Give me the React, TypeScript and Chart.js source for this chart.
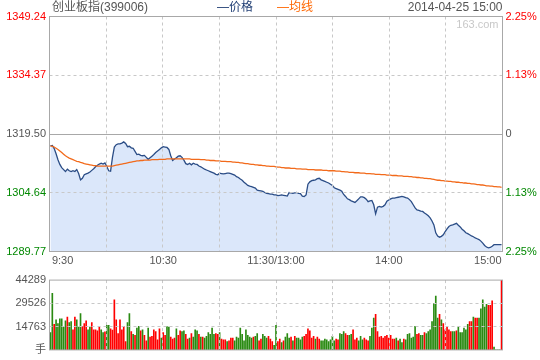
import React, { useEffect, useRef } from "react";
import { Chart, registerables } from "chart.js";

Chart.register(...registerables);

// ---------------- data ----------------
const TITLE = "创业板指(399006)";
const LEGEND_PRICE = "—价格";
const LEGEND_AVG = "—均线";
const DATE_TEXT = "2014-04-25 15:00";
const WATERMARK = "163.com";

const PREV_CLOSE = 1319.5;
const PRICE_TICKS = [1289.77, 1304.64, 1319.5, 1334.37, 1349.24];
const PRICE_TICK_LABELS = ["1289.77", "1304.64", "1319.50", "1334.37", "1349.24"];
const PCT_TICK_LABELS = ["2.25%", "1.13%", "0", "1.13%", "2.25%"];

const TIME_TICKS = [0, 60, 120, 180, 240];
const TIME_LABELS = ["9:30", "10:30", "11:30/13:00", "14:00", "15:00"];

const VOL_TICKS = [0, 14763, 29526, 44289];
const VOL_TICK_LABELS = ["手", "14763", "29526", "44289"];

// one value per minute, 9:30 .. 15:00 (241 points)
const PRICE = [
  1316.5, 1316.6, 1315.8, 1314.5, 1313.0, 1311.8, 1311.0, 1310.5, 1310.0, 1310.6,
  1310.2, 1310.0, 1310.2, 1310.0, 1310.5, 1309.5, 1307.9, 1308.3, 1309.2, 1309.4,
  1309.6, 1309.9, 1310.3, 1310.7, 1311.2, 1311.6, 1311.9, 1312.1, 1311.9, 1312.2,
  1311.3, 1310.2, 1310.1, 1313.6, 1316.2, 1316.8, 1317.0, 1317.0, 1317.2, 1317.5,
  1317.1, 1316.3, 1316.4, 1316.0, 1315.9, 1315.1, 1314.3, 1314.4, 1314.1, 1314.0,
  1314.1, 1313.6, 1313.1, 1313.5, 1313.9, 1314.3, 1314.8, 1315.2, 1315.6, 1316.0,
  1316.3, 1316.2, 1316.1, 1315.6, 1314.0, 1312.8, 1313.2, 1313.5, 1313.9, 1314.0,
  1313.6, 1312.9, 1312.0, 1311.8, 1312.1, 1311.7, 1312.1, 1311.9, 1311.8, 1311.4,
  1311.2, 1310.9, 1310.6, 1310.4, 1310.2, 1310.0, 1309.8, 1309.6, 1309.3, 1309.2,
  1309.6, 1309.5, 1309.4, 1309.5, 1309.6, 1309.6, 1309.5, 1309.3, 1309.1, 1308.7,
  1308.5, 1308.1, 1307.8, 1307.3, 1306.9, 1306.5, 1306.3, 1306.2, 1306.0, 1305.8,
  1305.3, 1305.2, 1305.1, 1305.0, 1304.7, 1304.5, 1304.4, 1304.3, 1304.3, 1304.1,
  1304.1, 1303.9, 1304.0, 1304.1, 1304.0, 1303.9, 1303.8, 1304.7, 1304.6, 1304.5,
  1304.6, 1304.7, 1304.5, 1304.4, 1303.8, 1303.7, 1304.1, 1306.8, 1307.4, 1307.7,
  1307.8, 1307.9, 1308.2, 1308.3, 1307.9, 1307.7, 1307.5, 1307.3, 1307.1, 1306.8,
  1306.5, 1305.9, 1305.7, 1305.5, 1305.3, 1305.0, 1304.2, 1303.7, 1303.1, 1302.9,
  1302.6, 1302.4, 1302.2, 1302.6, 1303.1, 1303.6, 1303.6, 1303.4, 1303.0, 1302.4,
  1302.6, 1302.7, 1301.6, 1299.3, 1301.0, 1301.2, 1301.0, 1301.2, 1301.6, 1302.5,
  1302.8, 1303.1, 1303.3, 1303.3, 1303.4, 1303.5, 1303.6, 1303.7, 1303.6, 1303.4,
  1303.3, 1302.9, 1302.4, 1301.6, 1300.8, 1300.3, 1300.2, 1300.0, 1299.9, 1299.5,
  1299.2, 1298.8, 1298.3, 1297.5, 1296.5, 1294.5, 1293.7, 1293.4, 1293.6, 1294.0,
  1294.8, 1295.5, 1296.1, 1296.4, 1296.5, 1296.7, 1296.9, 1296.4, 1296.0, 1295.4,
  1295.0, 1294.5, 1294.3, 1294.0, 1293.7, 1293.5, 1293.2, 1293.0, 1292.8, 1292.4,
  1291.9, 1291.3, 1290.9, 1290.7, 1290.8, 1291.1, 1291.5, 1291.5, 1291.5, 1291.5,
  1291.5,
];

const AVG = [
  1316.5, 1316.4, 1316.2, 1315.9, 1315.6, 1315.2, 1314.8, 1314.4, 1314.0, 1313.7,
  1313.4, 1313.2, 1313.0, 1312.8, 1312.6, 1312.5, 1312.3, 1312.2, 1312.0, 1311.9,
  1311.8, 1311.7, 1311.6, 1311.5, 1311.5, 1311.4, 1311.4, 1311.4, 1311.4, 1311.4,
  1311.4, 1311.4, 1311.4, 1311.4, 1311.5, 1311.6, 1311.7, 1311.8, 1311.9, 1312.0,
  1312.1, 1312.2, 1312.3, 1312.4, 1312.5, 1312.6, 1312.7, 1312.7, 1312.8, 1312.8,
  1312.9, 1312.9, 1312.9, 1312.9, 1313.0, 1313.0, 1313.0, 1313.0, 1313.1, 1313.1,
  1313.1, 1313.1, 1313.2, 1313.2, 1313.2, 1313.2, 1313.2, 1313.2, 1313.2, 1313.2,
  1313.2, 1313.2, 1313.2, 1313.2, 1313.2, 1313.1, 1313.1, 1313.1, 1313.1, 1313.1,
  1313.0, 1313.0, 1313.0, 1312.9, 1312.9, 1312.8, 1312.8, 1312.8, 1312.7, 1312.7,
  1312.7, 1312.6, 1312.6, 1312.6, 1312.5, 1312.5, 1312.5, 1312.4, 1312.4, 1312.3,
  1312.3, 1312.2, 1312.2, 1312.1, 1312.0, 1312.0, 1311.9, 1311.8, 1311.8, 1311.7,
  1311.7, 1311.6, 1311.6, 1311.5, 1311.5, 1311.4, 1311.4, 1311.3, 1311.3, 1311.3,
  1311.2, 1311.1, 1311.1, 1311.0, 1311.0, 1310.9, 1310.9, 1310.9, 1310.8, 1310.8,
  1310.8, 1310.7, 1310.7, 1310.7, 1310.6, 1310.6, 1310.6, 1310.5, 1310.5, 1310.5,
  1310.5, 1310.4, 1310.4, 1310.4, 1310.4, 1310.3, 1310.3, 1310.3, 1310.2, 1310.2,
  1310.2, 1310.2, 1310.1, 1310.1, 1310.1, 1310.0, 1310.0, 1309.9, 1309.9, 1309.8,
  1309.8, 1309.8, 1309.7, 1309.7, 1309.7, 1309.6, 1309.6, 1309.6, 1309.5, 1309.5,
  1309.5, 1309.4, 1309.4, 1309.3, 1309.3, 1309.3, 1309.2, 1309.2, 1309.2, 1309.1,
  1309.1, 1309.1, 1309.0, 1309.0, 1309.0, 1308.9, 1308.9, 1308.9, 1308.8, 1308.8,
  1308.8, 1308.7, 1308.7, 1308.6, 1308.6, 1308.5, 1308.5, 1308.4, 1308.4, 1308.3,
  1308.3, 1308.2, 1308.2, 1308.1, 1308.0, 1307.9, 1307.8, 1307.8, 1307.7, 1307.7,
  1307.6, 1307.6, 1307.5, 1307.5, 1307.4, 1307.4, 1307.3, 1307.3, 1307.2, 1307.2,
  1307.1, 1307.1, 1307.0, 1307.0, 1306.9, 1306.9, 1306.8, 1306.7, 1306.7, 1306.6,
  1306.6, 1306.5, 1306.4, 1306.4, 1306.3, 1306.3, 1306.2, 1306.2, 1306.1, 1306.1,
  1306.0,
];

const VOLUME = [
  10980, 35820, 16180, 19070, 16760, 19650, 19650, 14450, 18490, 20800,
  17330, 17910, 12710, 20800, 19070, 14450, 23110, 15020, 16760, 18490,
  12710, 14450, 17330, 12710, 12710, 12130, 14450, 12710, 10980, 11500,
  15600, 15600, 13290, 12500, 31780, 19070, 10400, 19070, 12710, 15020,
  5200, 17330, 23110, 11560, 9820, 9250, 13870, 15020, 12130, 12710,
  9250, 5780, 13870, 8090, 8670, 12710, 11560, 6360, 13290, 7510,
  10980, 9250, 14830, 14450, 8090, 6930, 7510, 13290, 9250, 12130,
  11560, 12130, 9820, 6930, 7510, 10400, 8090, 12710, 12130, 9820,
  8090, 8090, 7510, 8670, 10980, 9820, 13870, 9820, 10400, 9820,
  10980, 6930, 6360, 6360, 5200, 5780, 7510, 7510, 5780, 8090,
  7510, 13870, 9820, 5780, 12710, 9250, 8090, 7510, 8090, 8670,
  10400, 5780, 6930, 9820, 8670, 7510, 8670, 6930, 5200, 2890,
  15600, 5200, 6930, 4620, 5780, 8090, 10400, 7510, 8090, 5780,
  8670, 7510, 7510, 6360, 8090, 8670, 9820, 13290, 12130, 7510,
  8670, 6930, 8090, 6930, 5780, 5780, 6930, 6360, 5200, 6360,
  8670, 5780, 6930, 6360, 10400, 9820, 11560, 10400, 9250, 9250,
  9820, 12710, 6360, 7510, 5780, 8670, 6360, 7510, 6360, 5780,
  8670, 13870, 20220, 22530, 11560, 8090, 8670, 7510, 8670, 9250,
  7510, 9250, 6930, 6930, 7510, 5780, 6930, 4620, 6930, 6360,
  9820, 10400, 7510, 8090, 15020, 9820, 10400, 9250, 9250, 10980,
  10400, 11560, 12710, 17910, 29470, 34090, 20220, 22530, 19070, 16760,
  12710, 14450, 12710, 11560, 11560, 11560, 12130, 14450, 10980, 10980,
  13870, 12710, 16180, 17910, 17910, 20800, 20220, 20220, 20220, 26000,
  31780, 27160, 28890, 28310, 28310, 31200, 1730, 0, 0, 0,
  44289,
];

// r = up minute (red), g = down minute (green)
const VOL_DIR = [
  "ggrggggggr", "ggrrgggrrr", "ggrrrrrggr", "ggrrrrrrrr", "rggrgrggrg",
  "rrgrrrrrrg", "rrggrrrgrr", "ggrrgrgggr", "grggggggrr", "grrrgrrrgg",
  "ggggggggrg", "grrgggrrrg", "grrgrgggrg", "rggggrrrrr", "rgrrgggggg",
  "ggrrgggrrg", "grrrgggrrr", "gggrrrrrrr", "rrrrgrggrg", "gggggrrggr",
  "gggggggrgr", "rrrrggrggg", "gggrrgrrgg", "gggrrrgggg", "r",
].join("");

// ---------------- style ----------------
const FONT = '"Liberation Sans", Arial, "Noto Sans CJK SC", sans-serif';
const RED = "#ff0000";
const GREEN = "#008800";
const TEXT_GRAY = "#555555";
const BORDER = "#a8a8a8";
const DASH = "#c8c8c8";
const PRICE_LINE = "#2b4d86";
const PRICE_FILL = "#dbe7fa";
const AVG_LINE = "#f26a1b";
const BAR_RED = "#ff0000";
const BAR_GREEN = "#2a8a12";

function drawFrame(chart: any, dashedValues: number[], solidValues: number[]) {
  const { ctx, chartArea: a } = chart;
  const xs = chart.scales.x;
  const ys = chart.scales.y;
  ctx.save();
  ctx.lineWidth = 1;
  ctx.strokeStyle = DASH;
  ctx.setLineDash([3, 3]);
  for (let k = 1; k < 8; k++) {
    const px = Math.floor(xs.getPixelForDecimal(k / 8)) + 0.5;
    ctx.beginPath();
    ctx.moveTo(px, a.top);
    ctx.lineTo(px, a.bottom);
    ctx.stroke();
  }
  for (const v of dashedValues) {
    const py = Math.floor(ys.getPixelForValue(v)) + 0.5;
    ctx.beginPath();
    ctx.moveTo(a.left, py);
    ctx.lineTo(a.right, py);
    ctx.stroke();
  }
  ctx.setLineDash([]);
  ctx.strokeStyle = BORDER;
  for (const v of solidValues) {
    const py = Math.floor(ys.getPixelForValue(v)) + 0.5;
    ctx.beginPath();
    ctx.moveTo(a.left, py);
    ctx.lineTo(a.right, py);
    ctx.stroke();
  }
  ctx.strokeRect(a.left, a.top, a.right - a.left, a.bottom - a.top);
  ctx.restore();
}

function priceColor(v: number) {
  if (Math.abs(v - PREV_CLOSE) < 0.001) return TEXT_GRAY;
  return v > PREV_CLOSE ? RED : GREEN;
}

export default function App() {
  const priceRef = useRef<HTMLCanvasElement>(null);
  const volRef = useRef<HTMLCanvasElement>(null);

  useEffect(() => {
    const framePlugin = {
      id: "frame",
      afterDatasetsDraw(chart: any) {
        drawFrame(chart, [PRICE_TICKS[1], PRICE_TICKS[3]], [PREV_CLOSE]);
      },
      afterDraw(chart: any) {
        const { ctx, chartArea: a } = chart;
        const xs = chart.scales.x;
        ctx.save();
        ctx.textBaseline = "middle";
        ctx.font = `12px ${FONT}`;
        ctx.fillStyle = TEXT_GRAY;
        ctx.textAlign = "left";
        ctx.fillText(TITLE, 52, 8);
        ctx.fillStyle = "#1f3d73";
        ctx.fillText(LEGEND_PRICE, 217, 8);
        ctx.fillStyle = "#ff6600";
        ctx.fillText(LEGEND_AVG, 277, 8);
        ctx.fillStyle = TEXT_GRAY;
        ctx.textAlign = "right";
        ctx.fillText(DATE_TEXT, a.right, 8);
        ctx.font = `11px ${FONT}`;
        ctx.fillStyle = "#c8c8c8";
        ctx.fillText(WATERMARK, a.right - 4, a.top + 8);
        ctx.fillStyle = TEXT_GRAY;
        TIME_TICKS.forEach((t, i) => {
          const px = xs.getPixelForValue(t);
          if (i === 0) {
            ctx.textAlign = "left";
            ctx.fillText(TIME_LABELS[i], px + 1.5, a.bottom + 9);
          } else if (i === TIME_TICKS.length - 1) {
            ctx.textAlign = "right";
            ctx.fillText(TIME_LABELS[i], px, a.bottom + 9);
          } else {
            ctx.textAlign = "center";
            ctx.fillText(TIME_LABELS[i], px, a.bottom + 9);
          }
        });
        ctx.restore();
      },
    };

    const priceChart = new Chart(priceRef.current as HTMLCanvasElement, {
      type: "line",
      data: {
        datasets: [
          {
            data: AVG.map((v, i) => ({ x: i, y: v })),
            borderColor: AVG_LINE,
            borderWidth: 1.3,
            pointRadius: 0,
            fill: false,
            tension: 0,
            order: 1,
          },
          {
            data: PRICE.map((v, i) => ({ x: i, y: v })),
            borderColor: PRICE_LINE,
            backgroundColor: PRICE_FILL,
            borderWidth: 1.3,
            pointRadius: 0,
            fill: "start",
            tension: 0,
            order: 2,
          },
        ],
      },
      options: {
        animation: false,
        responsive: false,
        devicePixelRatio: 1,
        layout: { padding: { top: 16.5, bottom: 18.5, left: 0, right: 0 } },
        plugins: { legend: { display: false }, tooltip: { enabled: false } },
        scales: {
          x: { type: "linear", min: -0.5, max: 240.5, display: false, offset: false },
          y: {
            position: "left",
            min: PRICE_TICKS[0],
            max: PRICE_TICKS[PRICE_TICKS.length - 1],
            afterBuildTicks: (s: any) => {
              s.ticks = PRICE_TICKS.map((v) => ({ value: v }));
            },
            afterFit: (s: any) => {
              s.width = 49.5;
            },
            grid: { display: false, drawTicks: false },
            border: { display: false },
            ticks: {
              padding: 3.5,
              font: { family: FONT, size: 11 },
              color: (c: any) => priceColor(PRICE_TICKS[c.index]),
              callback: (_v: any, i: number) => PRICE_TICK_LABELS[i],
            },
          },
          y2: {
            position: "right",
            min: PRICE_TICKS[0],
            max: PRICE_TICKS[PRICE_TICKS.length - 1],
            afterBuildTicks: (s: any) => {
              s.ticks = PRICE_TICKS.map((v) => ({ value: v }));
            },
            afterFit: (s: any) => {
              s.width = 37.5;
            },
            grid: { display: false, drawTicks: false },
            border: { display: false },
            ticks: {
              padding: 3,
              font: { family: FONT, size: 11 },
              color: (c: any) => priceColor(PRICE_TICKS[c.index]),
              callback: (_v: any, i: number) => PCT_TICK_LABELS[i],
            },
          },
        },
      } as any,
      plugins: [framePlugin],
    });

    const volPlugin = {
      id: "volframe",
      afterDatasetsDraw(chart: any) {
        drawFrame(chart, [VOL_TICKS[1], VOL_TICKS[2]], []);
      },
    };

    const volChart = new Chart(volRef.current as HTMLCanvasElement, {
      type: "bar",
      data: {
        datasets: [
          {
            data: VOLUME.map((v, i) => ({ x: i, y: v })),
            backgroundColor: VOLUME.map((_, i) => (VOL_DIR[i] === "r" ? BAR_RED : BAR_GREEN)),
            barThickness: 1,
            borderWidth: 0,
          },
        ],
      },
      options: {
        animation: false,
        responsive: false,
        devicePixelRatio: 1,
        layout: { padding: { top: 4.5, bottom: 9.5, left: 0, right: 37.5 } },
        plugins: { legend: { display: false }, tooltip: { enabled: false } },
        scales: {
          x: { type: "linear", min: -0.5, max: 240.5, display: false, offset: false },
          y: {
            position: "left",
            min: 0,
            max: VOL_TICKS[VOL_TICKS.length - 1],
            afterBuildTicks: (s: any) => {
              s.ticks = VOL_TICKS.map((v) => ({ value: v }));
            },
            afterFit: (s: any) => {
              s.width = 49.5;
            },
            grid: { display: false, drawTicks: false },
            border: { display: false },
            ticks: {
              padding: 3.5,
              font: { family: FONT, size: 11 },
              color: TEXT_GRAY,
              callback: (_v: any, i: number) => VOL_TICK_LABELS[i],
            },
          },
        },
      } as any,
      plugins: [volPlugin],
    });

    return () => {
      priceChart.destroy();
      volChart.destroy();
    };
  }, []);

  return (
    <div style={{ position: "fixed", left: 0, top: 0, width: 540, height: 360, background: "#fff" }}>
      <canvas
        ref={priceRef}
        width={540}
        height={270}
        style={{ position: "absolute", left: 0, top: 0, width: 540, height: 270 }}
      />
      <canvas
        ref={volRef}
        width={540}
        height={90}
        style={{ position: "absolute", left: 0, top: 270, width: 540, height: 90 }}
      />
    </div>
  );
}
